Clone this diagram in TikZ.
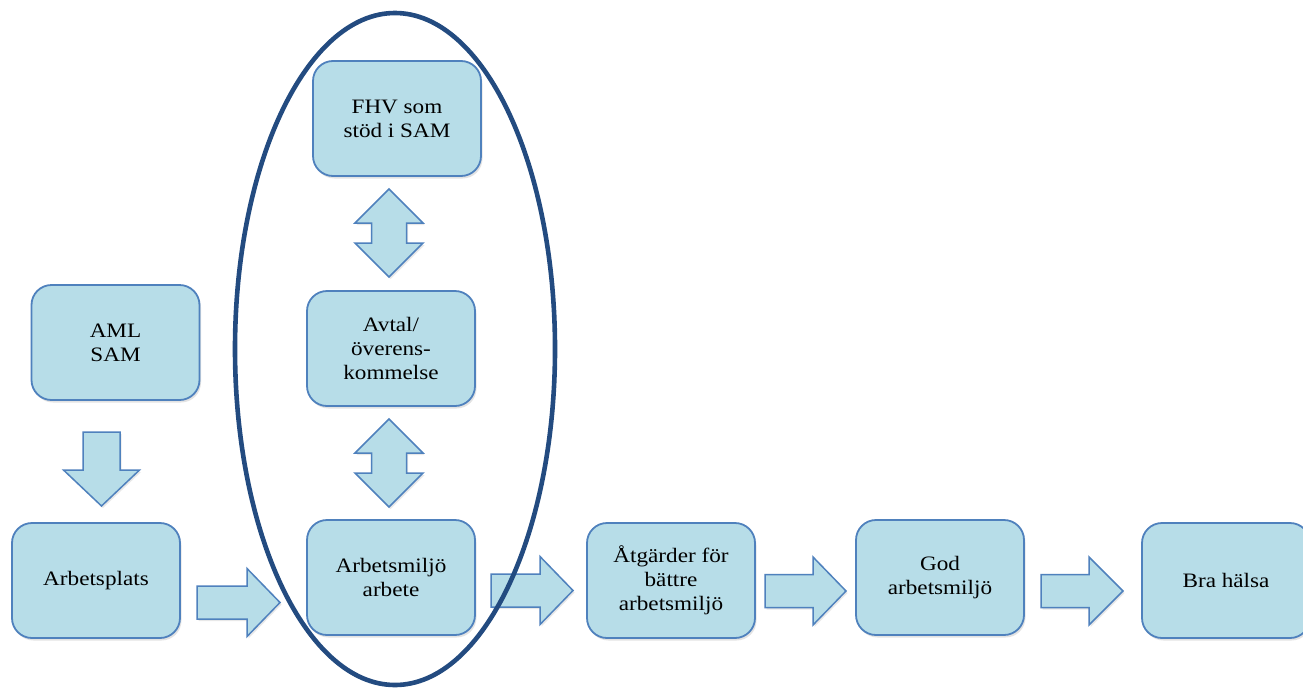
\documentclass[tikz,border=0pt]{standalone}
\usepackage{fontspec}
\setmainfont{Liberation Serif}[FakeStretch=1.13]
\usetikzlibrary{shadows}
\definecolor{boxfill}{HTML}{B7DDE8}
\definecolor{boxline}{HTML}{4F81BD}
\definecolor{ringcol}{HTML}{234B80}
\tikzset{
  boxst/.style={draw=boxline, fill=boxfill, line width=1.8pt, rounded corners=20pt,
    minimum width=168pt, minimum height=115pt, align=center, inner sep=0pt,
    font=\fontsize{20.5}{24}\selectfont,
    drop shadow={opacity=0.22, shadow xshift=1.5pt, shadow yshift=-2.5pt}},
  arrst/.style={draw=boxline, fill=boxfill, line width=1.5pt, line join=miter,
    drop shadow={opacity=0.18, shadow xshift=1.5pt, shadow yshift=-2pt}},
  ringst/.style={draw=ringcol, line width=4.6pt}
}
% right block arrow: tail x, centre y, shaft end x, tip x
\newcommand{\rblock}[4]{%
  \draw[arrst] (#1,#2-16.5) -- (#3,#2-16.5) -- (#3,#2-34) -- (#4,#2)
    -- (#3,#2+34) -- (#3,#2+16.5) -- (#1,#2+16.5) -- cycle;}
% vertical double block arrow: centre x, top tip y
\newcommand{\dblock}[2]{%
  \draw[arrst] (#1,#2) -- (#1+34,#2+34) -- (#1+17.5,#2+34) -- (#1+17.5,#2+54)
    -- (#1+34,#2+54) -- (#1,#2+88) -- (#1-34,#2+54) -- (#1-17.5,#2+54)
    -- (#1-17.5,#2+34) -- (#1-34,#2+34) -- cycle;}
\begin{document}
\begin{tikzpicture}[x=1pt,y=-1pt]
\clip (0,0) rectangle (1303,688);
\fill[white] (0,0) rectangle (1303,688);

\node[boxst] (fhv) at (397,118.5) {FHV som\\stöd i SAM};
\node[boxst] (avtal) at (391,348.5) {Avtal/\\överens-\\kommelse};
\node[boxst] (amarb) at (391,577.5) {Arbetsmiljö\\arbete};
\node[boxst] (aml) at (115.5,342.5) {AML\\SAM};
\node[boxst] (plats) at (96,580.5) {Arbetsplats};
\node[boxst] (atg) at (671,580.5) {Åtgärder för\\bättre\\arbetsmiljö};
\node[boxst] (god) at (940,577.5) {God\\arbetsmiljö};
\node[boxst] (bra) at (1226,580.5) {Bra hälsa};

% down arrow AML -> Arbetsplats
\draw[arrst] (83,432) -- (120,432) -- (120,470) -- (139.5,470) -- (101.5,506)
  -- (63.5,470) -- (83,470) -- cycle;

% double arrows
\dblock{389}{189}
\dblock{389}{419}

% right arrows
\rblock{197}{602.5}{247}{280}
\rblock{491}{590.5}{540}{573}
\rblock{765}{591}{813}{846}
\rblock{1041}{591}{1089}{1123}

% ring
\draw[ringst] (395,349) ellipse [x radius=160, y radius=336];
\end{tikzpicture}
\end{document}
